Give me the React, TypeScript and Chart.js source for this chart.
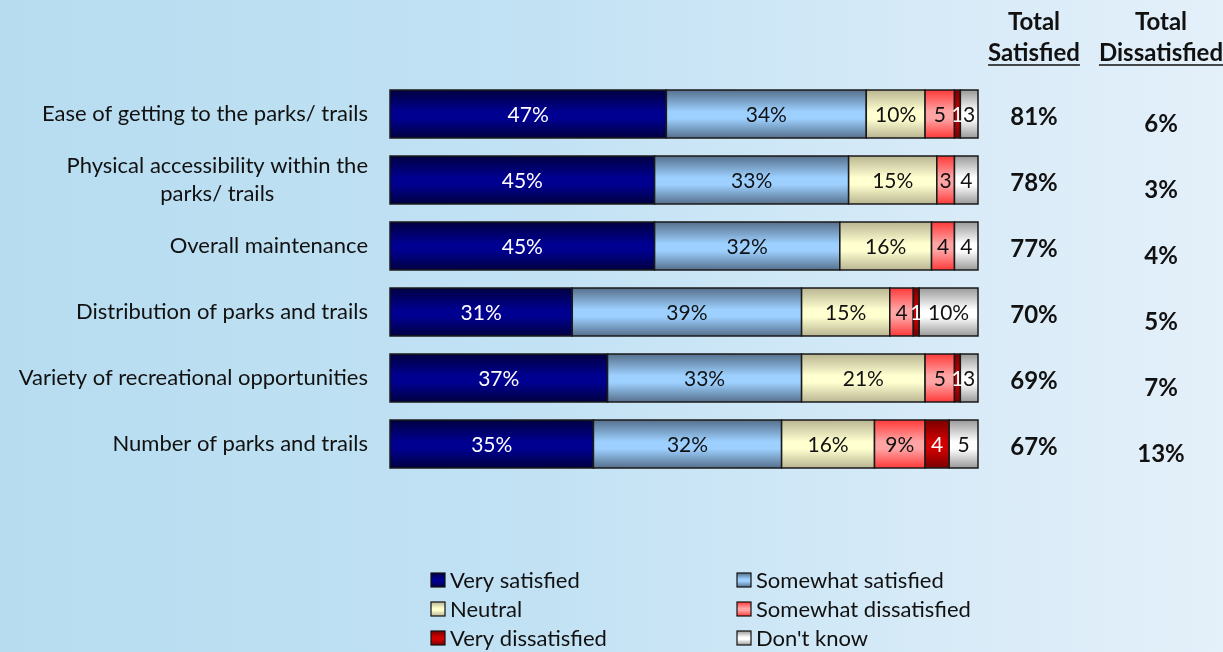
import React, { useEffect, useRef } from "react";
import { Chart, registerables } from "chart.js";

Chart.register(...registerables);

const categories: (string | string[])[] = [
  "Ease of getting to the parks/ trails",
  ["Physical accessibility within the", "parks/ trails"],
  "Overall maintenance",
  "Distribution of parks and trails",
  "Variety of recreational opportunities",
  "Number of parks and trails",
];

const seriesNames = [
  "Very satisfied",
  "Somewhat satisfied",
  "Neutral",
  "Somewhat dissatisfied",
  "Very dissatisfied",
  "Don't know",
];

const verySatisfied = [47, 45, 45, 31, 37, 34.6];
const somewhatSatisfied = [34, 33, 31.5, 39, 33, 32];
const neutral = [10, 15, 15.6, 15, 21, 15.8];
const somewhatDissatisfied = [5, 3, 3.9, 4, 5, 8.6];
const veryDissatisfied = [1, 0, 0, 1, 1, 4.1];
const dontKnow = [3, 4, 4, 10, 3, 4.9];

const totalSatisfied = [81, 78, 77, 70, 69, 67];
const totalDissatisfied = [6, 3, 4, 5, 7, 13];

const baseColors = ["#000080", "#99ccff", "#ffffcc", "#ff8080", "#c00000", "#ffffff"];
const edgeColors = ["#000040", "#56708c", "#b9b592", "#ff3a3a", "#7a0000", "#9a9a9a"];
const midColors = ["#000090", "#9dd0ff", "#ffffd0", "#ffa4a4", "#d00000", "#ffffff"];
const labelColors = ["#ffffff", "#111111", "#111111", "#111111", "#ffffff", "#111111"];

const FONT = "Lato, 'Open Sans', sans-serif";

function fillGrad(ctx: CanvasRenderingContext2D, i: number, x: number, y: number, w: number, h: number) {
  const g = ctx.createLinearGradient(0, y, 0, y + h);
  g.addColorStop(0, edgeColors[i]);
  g.addColorStop(0.45, midColors[i]);
  g.addColorStop(0.6, midColors[i]);
  g.addColorStop(1, edgeColors[i]);
  ctx.fillStyle = g;
  ctx.fillRect(x, y, w, h);
}

const overlayPlugin = {
  id: "overlay",
  afterDatasetsDraw(chart: any) {
    const ctx: CanvasRenderingContext2D = chart.ctx;
    ctx.save();
    // gradient bars + borders
    chart.data.datasets.forEach((ds: any, di: number) => {
      const meta = chart.getDatasetMeta(di);
      meta.data.forEach((el: any, idx: number) => {
        const v = ds.data[idx];
        if (!v) return;
        const left = Math.min(el.base, el.x);
        const w = Math.abs(el.x - el.base);
        const top = el.y - el.height / 2;
        fillGrad(ctx, di, left, top, w, el.height);
        ctx.strokeStyle = "#1a1a1a";
        ctx.lineWidth = 1.5;
        ctx.strokeRect(left, top, w, el.height);
      });
    });
    // data labels
    ctx.font = `21px ${FONT}`;
    ctx.textAlign = "center";
    ctx.textBaseline = "middle";
    chart.data.datasets.forEach((ds: any, di: number) => {
      const meta = chart.getDatasetMeta(di);
      meta.data.forEach((el: any, idx: number) => {
        const v = ds.data[idx];
        if (!v) return;
        const r = Math.round(v);
        const txt = r >= 8 ? `${r}%` : `${r}`;
        ctx.fillStyle = labelColors[di];
        ctx.fillText(txt, (el.x + el.base) / 2, el.y + 1);
      });
    });
    // category labels
    const yScale = chart.scales.y;
    ctx.fillStyle = "#111111";
    ctx.font = `22px ${FONT}`;
    categories.forEach((c, i) => {
      const cy = yScale.getPixelForValue(i);
      const lines = Array.isArray(c) ? c : [c];
      const widths = lines.map((l) => ctx.measureText(l).width);
      const bw = Math.max(...widths);
      const right = chart.chartArea.left - 22;
      const lh = 28;
      lines.forEach((l, li) => {
        const ly = cy + (li - (lines.length - 1) / 2) * lh;
        ctx.textAlign = "center";
        ctx.fillText(l, right - bw / 2, ly);
      });
    });
    // totals
    const satX = 1034;
    const disX = 1161;
    ctx.font = `bold 24px ${FONT}`;
    ctx.textAlign = "center";
    totalSatisfied.forEach((v, i) => {
      const cy = yScale.getPixelForValue(i);
      ctx.fillText(`${v}%`, satX, cy + 3);
      ctx.fillText(`${totalDissatisfied[i]}%`, disX, cy + 10);
    });
    // headers
    ctx.fillText("Total", satX, 22);
    ctx.fillText("Total", disX, 22);
    ctx.fillText("Satisfied", satX, 53);
    ctx.fillText("Dissatisfied", disX, 53);
    ctx.strokeStyle = "#111111";
    ctx.lineWidth = 1.5;
    [["Satisfied", satX], ["Dissatisfied", disX]].forEach(([t, x]: any) => {
      const w = ctx.measureText(t).width;
      ctx.beginPath();
      ctx.moveTo(x - w / 2, 65);
      ctx.lineTo(x + w / 2, 65);
      ctx.stroke();
    });
    // legend
    const legPos = [
      [431, 580], [737, 580],
      [431, 609], [737, 609],
      [431, 638], [737, 638],
    ];
    ctx.font = `22px ${FONT}`;
    ctx.textAlign = "left";
    seriesNames.forEach((n, i) => {
      const [lx, ly] = legPos[i];
      fillGrad(ctx, i, lx, ly - 7, 14, 14);
      ctx.strokeStyle = "#111111";
      ctx.lineWidth = 1.2;
      ctx.strokeRect(lx, ly - 7, 14, 14);
      ctx.fillStyle = "#111111";
      ctx.fillText(n, lx + 19, ly + 1);
    });
    ctx.restore();
  },
};

export default function App() {
  const ref = useRef<HTMLCanvasElement | null>(null);
  useEffect(() => {
    document.body.style.margin = "0";
    const seriesData = [verySatisfied, somewhatSatisfied, neutral, somewhatDissatisfied, veryDissatisfied, dontKnow];
    const chart = new Chart(ref.current as HTMLCanvasElement, {
      type: "bar",
      data: {
        labels: categories as any,
        datasets: seriesData.map((d, i) => ({
          label: seriesNames[i],
          data: d,
          backgroundColor: baseColors[i],
          borderWidth: 0,
          categoryPercentage: 1,
          barPercentage: 0.727,
        })),
      },
      options: {
        indexAxis: "y",
        animation: false,
        responsive: false,
        layout: { padding: { left: 390, right: 245, top: 81, bottom: 175 } },
        scales: {
          x: { stacked: true, min: 0, max: 100, display: false },
          y: { stacked: true, display: false },
        },
        plugins: { legend: { display: false }, tooltip: { enabled: false } },
      },
      plugins: [overlayPlugin],
    });
    return () => chart.destroy();
  }, []);
  return (
    <div
      style={{
        position: "absolute",
        left: 0,
        top: 0,
        width: 1223,
        height: 652,
        background: "linear-gradient(to right, #b7dcf0 0%, #c2e2f4 45%, #d6eaf7 75%, #e4f0fa 100%)",
      }}
    >
      <canvas ref={ref} width={1223} height={652} style={{ display: "block" }} />
    </div>
  );
}
